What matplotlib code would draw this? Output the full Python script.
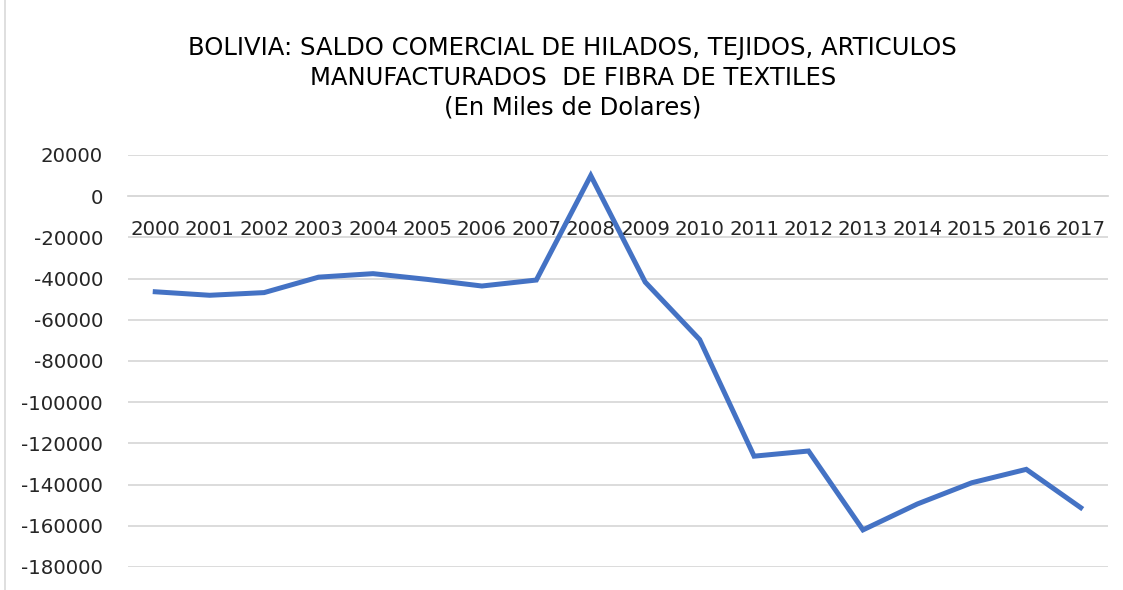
import matplotlib
matplotlib.use("Agg")
from matplotlib import pyplot as plt
from matplotlib.lines import Line2D
import numpy as np

years = [str(y) for y in range(2000, 2018)]
saldo = [-46400, -48100, -46800, -39300, -37600, -40400, -43600, -40700, 10000,
         -41700, -69600, -126200, -123700, -162000, -149400, -139100, -132600, -151200]
yticks = list(range(-180000, 20001, 20000))

title_lines = ["BOLIVIA: SALDO COMERCIAL DE HILADOS, TEJIDOS, ARTICULOS",
               "MANUFACTURADOS  DE FIBRA DE TEXTILES",
               "(En Miles de Dolares)"]

plt.rcParams['axes.unicode_minus'] = False

fig = plt.figure(figsize=(11.23, 5.90), dpi=100)
ax = fig.add_axes([0.114, 0.039, 0.8726, 0.6983])

x = np.arange(len(years))
ax.plot(x, saldo, color='#4472C4', lw=3.6, solid_joinstyle='miter', zorder=3)

# category axis crosses at zero (set before tick labels, it resets them)
for s in ['top', 'right', 'left']:
    ax.spines[s].set_visible(False)
ax.spines['bottom'].set_position(('data', 0))
ax.spines['bottom'].set_color('#D9D9D9')
ax.spines['bottom'].set_linewidth(1.3)

ax.set_xlim(-0.5, len(years) - 0.5)
ax.set_ylim(-180000, 20000)
ax.set_yticks(yticks)
ax.set_yticklabels([str(v) for v in yticks], fontsize=14.2, family='DejaVu Sans', color='#262626')
ax.set_xticks(x)
ax.set_xticklabels(years, fontsize=14.2, family='DejaVu Sans', color='#262626')

ax.grid(axis='y', color='#D9D9D9', lw=1.3, zorder=0)
ax.tick_params(axis='both', length=0)
ax.tick_params(axis='x', pad=17)
ax.tick_params(axis='y', pad=18)

for t, yy in zip(title_lines, [48, 78, 107]):
    fig.text(0.51, 1 - yy / 590, t, ha='center', va='center', fontsize=17.5,
             family='DejaVu Sans', color='#000000')

fig.add_artist(Line2D([5 / 1123, 5 / 1123], [0, 1], color='#D9D9D9', lw=1.2,
                      transform=fig.transFigure))

fig.savefig('out.png', dpi=100)
